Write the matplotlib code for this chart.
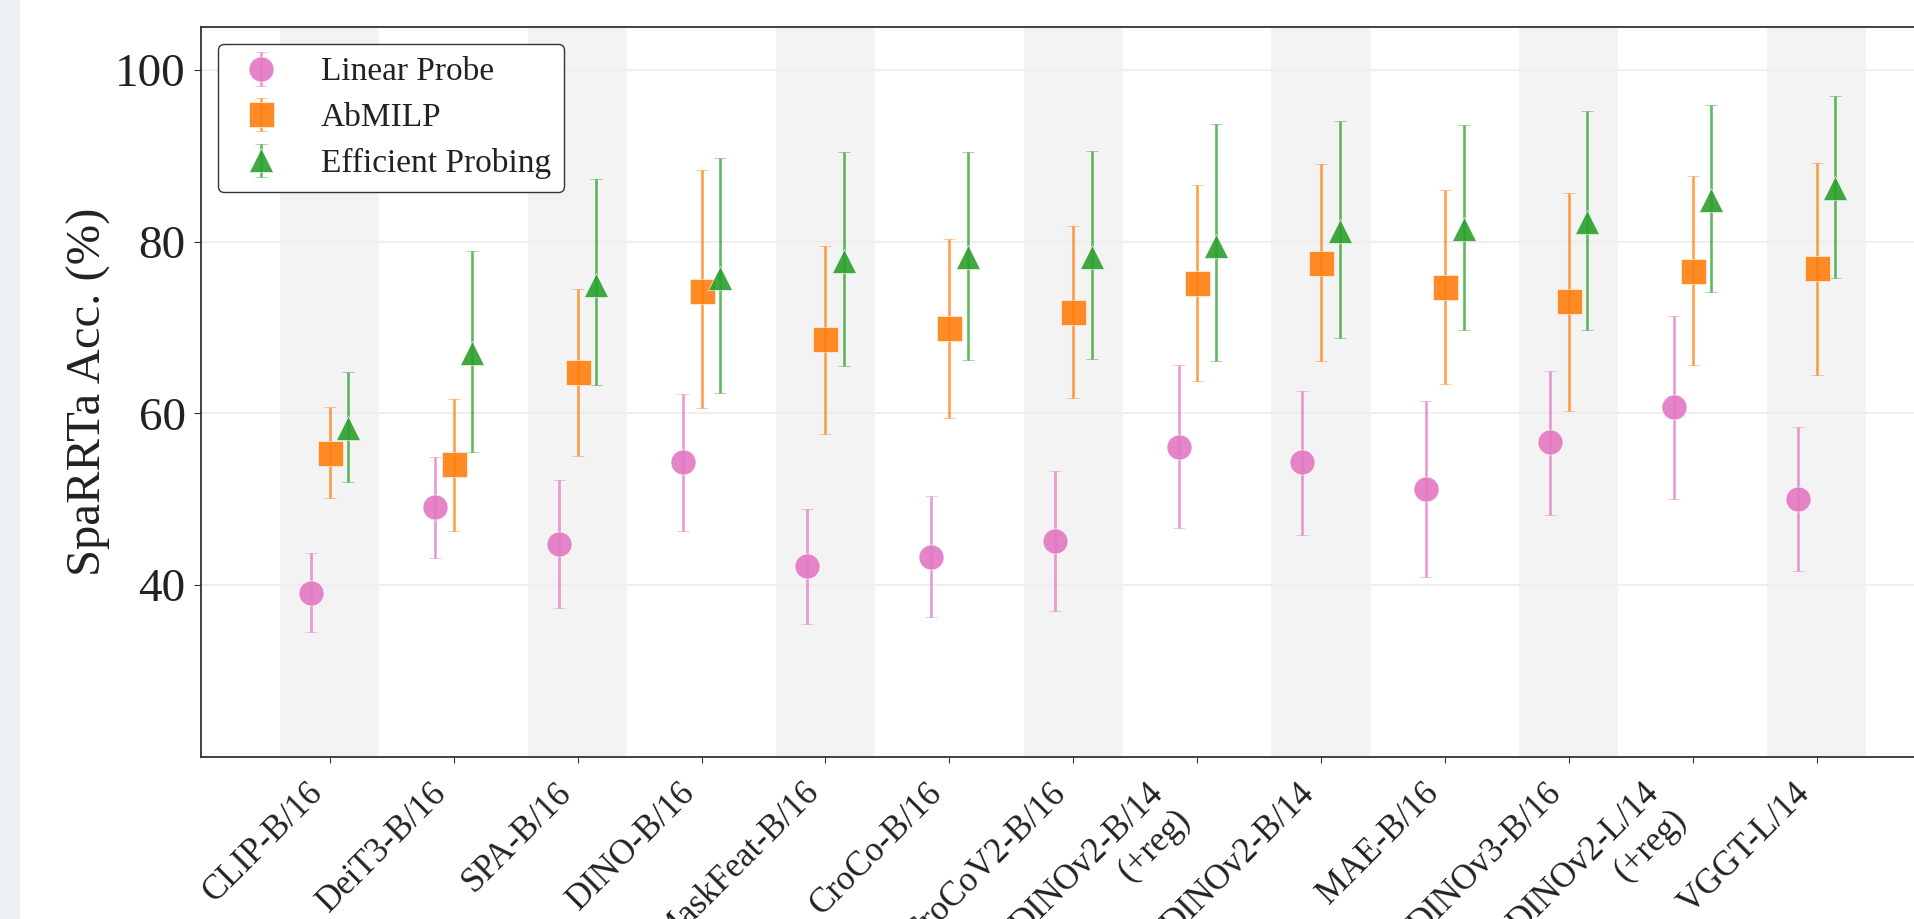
import matplotlib
matplotlib.use('Agg')
import matplotlib.pyplot as plt
from matplotlib.colors import to_rgba
from matplotlib.patches import Rectangle
import numpy as np

models = ['CLIP-B/16', 'DeiT3-B/16', 'SPA-B/16', 'DINO-B/16', 'MaskFeat-B/16',
          'CroCo-B/16', 'CroCoV2-B/16', 'DINOv2-B/14\n(+reg)', 'DINOv2-B/14',
          'MAE-B/16', 'DINOv3-B/16', 'DINOv2-L/14\n(+reg)', 'VGGT-L/14']

# mean, lower end, upper end of each error bar
linear_mean = [39.1, 49.1, 44.8, 54.4, 42.2, 43.3, 45.1, 56.1, 54.3, 51.2, 56.7, 60.7, 50.0]
linear_low = [34.6, 43.2, 37.3, 46.3, 35.5, 36.3, 37.0, 46.7, 45.9, 41.0, 48.2, 50.0, 41.6]
linear_high = [43.7, 54.9, 52.3, 62.3, 48.9, 50.4, 53.3, 65.6, 62.6, 61.5, 65.0, 71.4, 58.4]

abmilp_mean = [55.4, 54.1, 64.8, 74.3, 68.7, 69.9, 71.8, 75.2, 77.5, 74.7, 73.1, 76.6, 76.9]
abmilp_low = [50.1, 46.3, 55.1, 60.6, 57.6, 59.5, 61.8, 63.8, 66.1, 63.4, 60.3, 65.7, 64.5]
abmilp_high = [60.7, 61.7, 74.5, 88.3, 79.5, 80.3, 81.8, 86.6, 89.0, 86.0, 85.7, 87.6, 89.2]

effprob_mean = [58.3, 67.0, 75.0, 75.8, 77.7, 78.2, 78.2, 79.5, 81.2, 81.5, 82.3, 84.8, 86.2]
effprob_low = [52.0, 55.5, 63.3, 62.4, 65.5, 66.2, 66.3, 66.1, 68.8, 69.7, 69.7, 74.2, 75.8]
effprob_high = [64.8, 78.9, 87.3, 89.7, 90.4, 90.5, 90.6, 93.7, 94.1, 93.6, 95.2, 95.9, 97.0]

serif = ['Liberation Serif', 'DejaVu Serif']
plt.rcParams['font.family'] = serif

fig = plt.figure(figsize=(19.14, 9.19), dpi=100)
fig.patch.set_facecolor('white')
# light strip on the left edge of the screenshot
fig.patches.append(Rectangle((0, 0), 20 / 1914, 1, transform=fig.transFigure,
                             facecolor='#edf1f5', edgecolor='none', zorder=0))

# axes runs past the right edge, like the cropped original
ax = fig.add_axes([201 / 1914, 162 / 919, 1744.5 / 1914, 730 / 919])

x = np.arange(len(models))
for i in x[::2]:
    ax.axvspan(i - 0.4, i + 0.4, color='#f3f3f3', zorder=0, lw=0)

ax.yaxis.grid(True, color='#eeeeee', lw=1.5, zorder=0.5)
ax.set_axisbelow(True)

series = [
    ('Linear Probe', linear_mean, linear_low, linear_high, '#e377c2', 'o', 18, -0.15),
    ('AbMILP', abmilp_mean, abmilp_low, abmilp_high, '#ff7f0e', 's', 18, 0.0),
    ('Efficient Probing', effprob_mean, effprob_low, effprob_high, '#2ca02c', '^', 17, 0.15),
]
for name, m, lo, hi, c, mk, ms, off in series:
    m = np.array(m)
    err = [m - np.array(lo), np.array(hi) - m]
    ax.errorbar(x + off, m, yerr=err, fmt=mk, color=to_rgba(c, 0.9),
                ecolor=to_rgba(c, 0.75), ms=ms, capsize=4, elinewidth=1.9,
                capthick=1.9, markeredgecolor='white', markeredgewidth=0.4,
                label=name, zorder=3)

ax.set_xlim(-1.04, 13.04)
ax.set_ylim(20, 105)
ax.set_yticks([40, 60, 80, 100])
ax.set_xticks(x)
ax.set_xticklabels(models, rotation=45, ha='right', multialignment='right',
                   fontsize=25, color='#222222')
ax.tick_params(axis='y', labelsize=34, length=5, color='#333333',
               labelcolor='#222222', pad=6)
ax.tick_params(axis='x', length=4, color='#333333', pad=10)
ax.set_ylabel('SpaRRTa Acc. (%)', fontsize=35, color='#222222', labelpad=3)

for s in ['left', 'bottom', 'top', 'right']:
    ax.spines[s].set_color('#333333')
    ax.spines[s].set_linewidth(1.3)

leg = ax.legend(loc='upper left', fontsize=24, frameon=True, fancybox=True,
                borderaxespad=0.5, labelspacing=0.45, handlelength=1.8,
                handletextpad=0.9, borderpad=0.4)
leg.get_frame().set_edgecolor('#333333')
leg.get_frame().set_linewidth(1.0)
leg.get_frame().set_alpha(1.0)
for t in leg.get_texts():
    t.set_color('#222222')

fig.savefig('out.png', dpi=100)
